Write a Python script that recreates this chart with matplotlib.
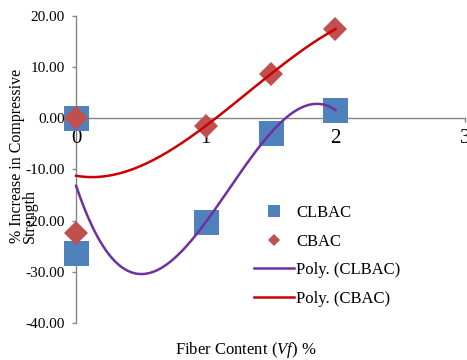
import matplotlib
matplotlib.use("Agg")
import matplotlib.pyplot as plt
import numpy as np
from matplotlib.ticker import FuncFormatter


# =========================
# Data
# =========================
fiber = [0, 0, 1, 1.5, 2]
clbac = [0.0, -26.4, -20.3, -2.9, 1.6]
cbac = [0.0, -22.5, -1.5, 8.6, 17.4]
poly_order = 3

x_ticks = [0, 1, 2, 3]
y_ticks = [20, 10, 0, -10, -20, -30, -40]


# =========================
# Style
# =========================
plt.rcParams["font.family"] = ["Liberation Serif", "DejaVu Serif"]
plt.rcParams["mathtext.fontset"] = "custom"
plt.rcParams["mathtext.rm"] = "Liberation Serif"
plt.rcParams["mathtext.it"] = "Liberation Serif:italic"

axis_grey = "#868686"
blue = "#4F81BD"
red_marker = "#C0504D"
purple = "#7030A0"
red_line = "#CC0000"


fig = plt.figure(figsize=(4.67, 3.6), dpi=100)
ax = fig.add_axes([0.163, 0.103, 0.833, 0.853])

ax.plot(fiber, clbac, "s", color=blue, markersize=18, markeredgewidth=0,
        label="CLBAC", zorder=2, clip_on=False)
ax.plot(fiber, cbac, "D", color=red_marker, markersize=12, markeredgewidth=0,
        label="CBAC", zorder=3, clip_on=False)

# Excel-style polynomial trendlines fitted to the points
xs = np.linspace(0, 2, 200)
c1 = np.polyfit(fiber, clbac, poly_order)
c2 = np.polyfit(fiber, cbac, poly_order)
ax.plot(xs, np.polyval(c1, xs), color=purple, lw=1.8, label="Poly. (CLBAC)",
        zorder=4, clip_on=False)
ax.plot(xs, np.polyval(c2, xs), color=red_line, lw=1.8, label="Poly. (CBAC)",
        zorder=4, clip_on=False)

ax.set_xlim(0, 3)
ax.set_ylim(-40, 20)
ax.set_xticks(x_ticks)
ax.set_yticks(y_ticks)
ax.yaxis.set_major_formatter(FuncFormatter(lambda v, p: f"{v:.2f}"))

for s in ["top", "right"]:
    ax.spines[s].set_visible(False)
ax.spines["bottom"].set_position(("data", 0))
ax.spines["left"].set_position(("data", 0))
for s in ["bottom", "left"]:
    ax.spines[s].set_color(axis_grey)
    ax.spines[s].set_linewidth(1.0)
    ax.spines[s].set_zorder(1)

ax.tick_params(axis="both", direction="out", color=axis_grey, length=3, width=1)
ax.tick_params(axis="y", labelsize=11, pad=5)
ax.tick_params(axis="x", labelsize=15, pad=5)
for lbl in ax.get_xticklabels():
    lbl.set_zorder(5)

ax.legend(loc="upper left", bbox_to_anchor=(0.44, 0.405), frameon=False,
          fontsize=12, markerscale=0.5, handlelength=2.4, handletextpad=0.15,
          labelspacing=0.75, borderaxespad=0)

fig.text(0.527, 0.028, "Fiber Content ($\\mathit{Vf}$) %", ha="center", va="center",
         fontsize=12)
fig.text(0.051, 0.567, "% Increase in Compressive\nStrength", rotation=90,
         ha="center", va="center", multialignment="left", fontsize=11.5,
         linespacing=0.75)

fig.savefig("out.png", dpi=100)
